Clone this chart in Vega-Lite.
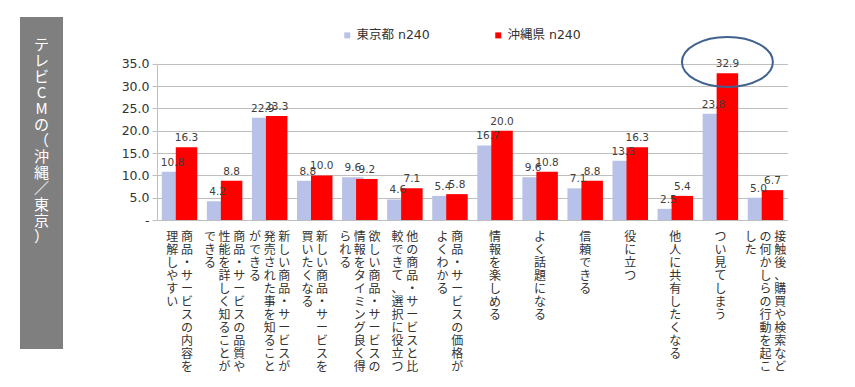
{
  "$schema": "https://vega.github.io/schema/vega-lite/v6.json",
  "background": "white",
  "padding": {"left": 20, "top": 17, "right": 0, "bottom": 0},
  "bounds": "flush",
  "spacing": 94,
  "config": {"font": "DejaVu Sans"},
  "hconcat": [
    {
      "width": 43,
      "height": 332,
      "view": {"fill": "#7f7f7f", "stroke": null},
      "data": {"values": [{"label": "テレビCMの（沖縄／東京）"}]},
      "mark": {"type": "text", "lineBreak": {"expr": "regexp('')"}, "font": "Noto Sans CJK JP", "fontSize": 15, "lineHeight": 16, "color": "white", "baseline": "top", "align": "center", "dy": -145},
      "encoding": {"text": {"field": "label", "type": "nominal"}}
    },
    {
      "width": 631,
      "height": 203,
      "view": {"stroke": null},
      "data": {
        "values": [
          {"cat": "商品・サービスの内容を\n理解しやすい", "series": "東京都 n240", "value": 10.8},
          {"cat": "商品・サービスの内容を\n理解しやすい", "series": "沖縄県 n240", "value": 16.3},
          {"cat": "商品・サービスの品質や\n性能を詳しく知ることが\nできる", "series": "東京都 n240", "value": 4.2},
          {"cat": "商品・サービスの品質や\n性能を詳しく知ることが\nできる", "series": "沖縄県 n240", "value": 8.8},
          {"cat": "新しい商品・サービスが\n発売された事を知ること\nができる", "series": "東京都 n240", "value": 22.9},
          {"cat": "新しい商品・サービスが\n発売された事を知ること\nができる", "series": "沖縄県 n240", "value": 23.3},
          {"cat": "新しい商品・サービスを\n買いたくなる", "series": "東京都 n240", "value": 8.8},
          {"cat": "新しい商品・サービスを\n買いたくなる", "series": "沖縄県 n240", "value": 10.0},
          {"cat": "欲しい商品・サービスの\n情報をタイミング良く得\nられる", "series": "東京都 n240", "value": 9.6},
          {"cat": "欲しい商品・サービスの\n情報をタイミング良く得\nられる", "series": "沖縄県 n240", "value": 9.2},
          {"cat": "他の商品・サービスと比\n較できて、選択に役立つ", "series": "東京都 n240", "value": 4.6},
          {"cat": "他の商品・サービスと比\n較できて、選択に役立つ", "series": "沖縄県 n240", "value": 7.1},
          {"cat": "商品・サービスの価格が\nよくわかる", "series": "東京都 n240", "value": 5.4},
          {"cat": "商品・サービスの価格が\nよくわかる", "series": "沖縄県 n240", "value": 5.8},
          {"cat": "情報を楽しめる", "series": "東京都 n240", "value": 16.7},
          {"cat": "情報を楽しめる", "series": "沖縄県 n240", "value": 20.0},
          {"cat": "よく話題になる", "series": "東京都 n240", "value": 9.6},
          {"cat": "よく話題になる", "series": "沖縄県 n240", "value": 10.8},
          {"cat": "信頼できる", "series": "東京都 n240", "value": 7.1},
          {"cat": "信頼できる", "series": "沖縄県 n240", "value": 8.8},
          {"cat": "役に立つ", "series": "東京都 n240", "value": 13.3},
          {"cat": "役に立つ", "series": "沖縄県 n240", "value": 16.3},
          {"cat": "他人に共有したくなる", "series": "東京都 n240", "value": 2.5},
          {"cat": "他人に共有したくなる", "series": "沖縄県 n240", "value": 5.4},
          {"cat": "つい見てしまう", "series": "東京都 n240", "value": 23.8},
          {"cat": "つい見てしまう", "series": "沖縄県 n240", "value": 32.9},
          {"cat": "接触後、購買や検索など\nの何かしらの行動を起こ\nした", "series": "東京都 n240", "value": 5.0},
          {"cat": "接触後、購買や検索など\nの何かしらの行動を起こ\nした", "series": "沖縄県 n240", "value": 6.7}
        ]
      },
      "encoding": {
        "x": {
          "field": "cat",
          "type": "nominal",
          "sort": null,
          "scale": {"paddingInner": 0, "paddingOuter": 0},
          "axis": {
            "title": null,
            "labelAngle": 0,
            "labelAlign": "center",
            "labelBaseline": "top",
            "labelPadding": 11,
            "ticks": false,
            "grid": false,
            "labelFont": "Noto Sans CJK JP",
            "labelFontSize": 12,
            "labelLineHeight": 13,
            "labelColor": "#333333",
            "labelOverlap": false,
            "labelBound": false,
            "labelLimit": 0,
            "domainColor": "#bfbfbf",
            "domainWidth": 1,
            "labelExpr": "[(length(split(datum.label,'\\n'))>2?(substring(split(datum.label,'\\n')[2],0,1)||'\u200b\u3000')+' ':'')+(length(split(datum.label,'\\n'))>1?(substring(split(datum.label,'\\n')[1],0,1)||'\u200b\u3000')+' ':'')+(substring(split(datum.label,'\\n')[0],0,1)||'\u200b\u3000'),(length(split(datum.label,'\\n'))>2?(substring(split(datum.label,'\\n')[2],1,2)||'\u200b\u3000')+' ':'')+(length(split(datum.label,'\\n'))>1?(substring(split(datum.label,'\\n')[1],1,2)||'\u200b\u3000')+' ':'')+(substring(split(datum.label,'\\n')[0],1,2)||'\u200b\u3000'),(length(split(datum.label,'\\n'))>2?(substring(split(datum.label,'\\n')[2],2,3)||'\u200b\u3000')+' ':'')+(length(split(datum.label,'\\n'))>1?(substring(split(datum.label,'\\n')[1],2,3)||'\u200b\u3000')+' ':'')+(substring(split(datum.label,'\\n')[0],2,3)||'\u200b\u3000'),(length(split(datum.label,'\\n'))>2?(substring(split(datum.label,'\\n')[2],3,4)||'\u200b\u3000')+' ':'')+(length(split(datum.label,'\\n'))>1?(substring(split(datum.label,'\\n')[1],3,4)||'\u200b\u3000')+' ':'')+(substring(split(datum.label,'\\n')[0],3,4)||'\u200b\u3000'),(length(split(datum.label,'\\n'))>2?(substring(split(datum.label,'\\n')[2],4,5)||'\u200b\u3000')+' ':'')+(length(split(datum.label,'\\n'))>1?(substring(split(datum.label,'\\n')[1],4,5)||'\u200b\u3000')+' ':'')+(substring(split(datum.label,'\\n')[0],4,5)||'\u200b\u3000'),(length(split(datum.label,'\\n'))>2?(substring(split(datum.label,'\\n')[2],5,6)||'\u200b\u3000')+' ':'')+(length(split(datum.label,'\\n'))>1?(substring(split(datum.label,'\\n')[1],5,6)||'\u200b\u3000')+' ':'')+(substring(split(datum.label,'\\n')[0],5,6)||'\u200b\u3000'),(length(split(datum.label,'\\n'))>2?(substring(split(datum.label,'\\n')[2],6,7)||'\u200b\u3000')+' ':'')+(length(split(datum.label,'\\n'))>1?(substring(split(datum.label,'\\n')[1],6,7)||'\u200b\u3000')+' ':'')+(substring(split(datum.label,'\\n')[0],6,7)||'\u200b\u3000'),(length(split(datum.label,'\\n'))>2?(substring(split(datum.label,'\\n')[2],7,8)||'\u200b\u3000')+' ':'')+(length(split(datum.label,'\\n'))>1?(substring(split(datum.label,'\\n')[1],7,8)||'\u200b\u3000')+' ':'')+(substring(split(datum.label,'\\n')[0],7,8)||'\u200b\u3000'),(length(split(datum.label,'\\n'))>2?(substring(split(datum.label,'\\n')[2],8,9)||'\u200b\u3000')+' ':'')+(length(split(datum.label,'\\n'))>1?(substring(split(datum.label,'\\n')[1],8,9)||'\u200b\u3000')+' ':'')+(substring(split(datum.label,'\\n')[0],8,9)||'\u200b\u3000'),(length(split(datum.label,'\\n'))>2?(substring(split(datum.label,'\\n')[2],9,10)||'\u200b\u3000')+' ':'')+(length(split(datum.label,'\\n'))>1?(substring(split(datum.label,'\\n')[1],9,10)||'\u200b\u3000')+' ':'')+(substring(split(datum.label,'\\n')[0],9,10)||'\u200b\u3000'),(length(split(datum.label,'\\n'))>2?(substring(split(datum.label,'\\n')[2],10,11)||'\u200b\u3000')+' ':'')+(length(split(datum.label,'\\n'))>1?(substring(split(datum.label,'\\n')[1],10,11)||'\u200b\u3000')+' ':'')+(substring(split(datum.label,'\\n')[0],10,11)||'\u200b\u3000')]"
          }
        },
        "xOffset": {
          "field": "series",
          "type": "nominal",
          "scale": {"domain": ["東京都 n240", "沖縄県 n240"], "paddingInner": 0, "paddingOuter": 0.61}
        },
        "y": {
          "field": "value",
          "type": "quantitative",
          "scale": {"domain": [0, 45.5], "nice": false},
          "axis": {
            "title": null,
            "values": [0, 5, 10, 15, 20, 25, 30, 35],
            "labelExpr": "datum.value == 0 ? '-' : format(datum.value, '.1f')",
            "grid": true,
            "gridColor": "#bfbfbf",
            "domainColor": "#bfbfbf",
            "domainDash": [156.2, 1000],
            "tickColor": "#bfbfbf",
            "tickSize": 5,
            "labelPadding": 3,
            "labelFont": "DejaVu Sans",
            "labelFontSize": 12.5,
            "labelColor": "#333333"
          }
        }
      },
      "layer": [
        {
          "mark": {"type": "bar", "width": 21.5},
          "encoding": {
            "color": {
              "field": "series",
              "type": "nominal",
              "scale": {"domain": ["東京都 n240", "沖縄県 n240"], "range": ["#b8c2e9", "#ff0000"]},
              "legend": {
                "title": null,
                "orient": "none",
                "legendX": 321,
                "legendY": 12,
                "direction": "horizontal",
                "symbolType": "square",
                "symbolSize": 36,
                "symbolStrokeWidth": 0,
                "labelFont": "DejaVu Sans, Noto Sans CJK JP",
                "labelFontSize": 12.5,
                "labelColor": "#333333",
                "labelOffset": 3,
                "columnPadding": 62,
                "padding": 0
              }
            }
          }
        },
        {
          "mark": {"type": "text", "baseline": "alphabetic", "dy": -6, "fontSize": 10.5, "color": "#404040", "font": "DejaVu Sans"},
          "encoding": {"text": {"field": "value", "type": "quantitative", "format": ".1f"}}
        },
        {
          "transform": [{"filter": "datum.value == 32.9"}],
          "mark": {"type": "point", "shape": "M-1,-0.246A1,0.55,0,1,1,1,-0.246A1,0.55,0,1,1,-1,-0.246Z", "size": 8281, "filled": false, "color": "#41618f", "strokeWidth": 2, "opacity": 1}
        }
      ]
    }
  ]
}
